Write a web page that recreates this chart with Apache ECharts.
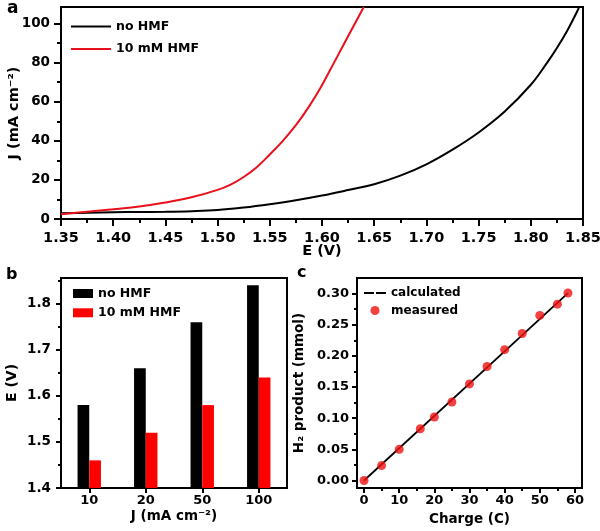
<!DOCTYPE html>
<html><head><meta charset="utf-8">
<script src="https://cdn.jsdelivr.net/npm/echarts@6/dist/echarts.min.js"></script>
<style>html,body{margin:0;padding:0;background:#fff}#c{width:600px;height:531px}</style>
</head><body><div id="c"></div>
<script>
const FONT = 'DejaVu Sans';
// ---- Panel a: LSV curves ----
const aE_noHMF = [1.35,1.375,1.40,1.425,1.45,1.475,1.50,1.525,1.55,1.575,1.60,1.625,1.65,1.675,1.70,1.725,1.75,1.775,1.80,1.815,1.825,1.835,1.846];
const aJ_noHMF = [2.9,3.2,3.5,3.6,3.7,4.0,4.6,5.9,7.6,9.6,12.0,14.8,17.8,22.2,28.0,35.5,44.3,55.0,68.7,79.5,87.5,96.5,108];
const aE_HMF = [1.35,1.375,1.40,1.425,1.45,1.475,1.50,1.5125,1.525,1.5375,1.55,1.5625,1.575,1.5875,1.60,1.61,1.62,1.63,1.64];
const aJ_HMF = [2.4,3.7,5.0,6.4,8.4,11.1,14.9,17.6,21.5,26.5,33.0,40.0,48.0,57.5,68.5,78.5,88.5,98.5,108.5];
const aXTicks = [1.35,1.40,1.45,1.50,1.55,1.60,1.65,1.70,1.75,1.80,1.85];
const aXMinor = [1.375,1.425,1.475,1.525,1.575,1.625,1.675,1.725,1.775,1.825];
const aYTicks = [0,20,40,60,80,100];
const aYMinor = [10,30,50,70,90];
// ---- Panel b: bars ----
const bCategories = ['10','20','50','100'];
const bNoHMF = [1.58,1.66,1.76,1.84];
const bHMF = [1.46,1.52,1.58,1.64];
const bYTicks = [1.4,1.5,1.6,1.7,1.8];
const bYMinor = [1.45,1.55,1.65,1.75,1.85];
// ---- Panel c: H2 product ----
const cCharge = [0,5,10,16,20,25,30,35,40,45,50,55,58];
const cMeasured = [0,0.024,0.050,0.083,0.102,0.126,0.155,0.183,0.210,0.236,0.265,0.283,0.301];
const cCalcX = [0,58];
const cCalcY = [0,0.3006];
const cXTicks = [0,10,20,30,40,50,60];
const cXMinor = [5,15,25,35,45,55];
const cYTicks = [0,0.05,0.10,0.15,0.20,0.25,0.30];
const cYMinor = [0.025,0.075,0.125,0.175,0.225,0.275];

const zip = (a, b) => a.map((v, i) => [v, b[i]]);
const txt = (size) => ({ color: '#000', fontWeight: 'bold', fontFamily: FONT, fontSize: size });

function mainAxis(o) {
  return {
    type: 'value', gridIndex: o.grid, position: o.pos, min: o.min, max: o.max,
    name: o.name, nameLocation: 'middle', nameGap: o.nameGap, nameTextStyle: txt(o.nameSize), nameMoveOverlap: false,
    axisLine: { show: true, onZero: false, lineStyle: { color: '#000', width: 2 } },
    axisTick: { show: true, inside: false, length: o.tickLen, customValues: o.ticks, lineStyle: { color: '#000', width: 2 } },
    axisLabel: Object.assign({ show: true, margin: o.margin, customValues: o.ticks, formatter: o.fmt, hideOverlap: false }, txt(o.labelSize)),
    splitLine: { show: false }, minorTick: { show: false }
  };
}
function minorAxis(o) {
  return {
    type: 'value', gridIndex: o.grid, position: o.pos, min: o.min, max: o.max,
    axisLine: { show: false, onZero: false },
    axisTick: { show: true, inside: false, length: o.tickLen, customValues: o.ticks, lineStyle: { color: '#000', width: 2 } },
    axisLabel: { show: false }, splitLine: { show: false }
  };
}

const xAxes = [
  mainAxis({ grid: 0, pos: 'bottom', min: 1.35, max: 1.85, name: 'E (V)', nameGap: 25, nameSize: 14.5,
    tickLen: 7, ticks: aXTicks, margin: 12, labelSize: 14.5, fmt: v => v.toFixed(2) }),
  minorAxis({ grid: 0, pos: 'bottom', min: 1.35, max: 1.85, tickLen: 4, ticks: aXMinor }),
  {
    type: 'category', gridIndex: 1, position: 'bottom', data: bCategories,
    name: 'J (mA cm\u207B\u00B2)', nameLocation: 'middle', nameGap: 21, nameTextStyle: txt(13.5), nameMoveOverlap: false,
    axisLine: { show: true, onZero: false, lineStyle: { color: '#000', width: 2 } },
    axisTick: { show: true, alignWithLabel: true, length: 5, lineStyle: { color: '#000', width: 2 } },
    axisLabel: Object.assign({ margin: 6 }, txt(13)), splitLine: { show: false }
  },
  mainAxis({ grid: 2, pos: 'bottom', min: -2, max: 62, name: 'Charge (C)', nameGap: 24, nameSize: 13.5,
    tickLen: 5, ticks: cXTicks, margin: 6, labelSize: 13, fmt: v => String(v) }),
  minorAxis({ grid: 2, pos: 'bottom', min: -2, max: 62, tickLen: 3, ticks: cXMinor })
];
const yAxes = [
  mainAxis({ grid: 0, pos: 'left', min: 0, max: 108.5, name: 'J (mA cm\u207B\u00B2)', nameGap: 39, nameSize: 14.5,
    tickLen: 7, ticks: aYTicks, margin: 11, labelSize: 13.5, fmt: v => String(v) }),
  minorAxis({ grid: 0, pos: 'left', min: 0, max: 108.5, tickLen: 4, ticks: aYMinor }),
  mainAxis({ grid: 1, pos: 'left', min: 1.4, max: 1.856, name: 'E (V)', nameGap: 42, nameSize: 14,
    tickLen: 5, ticks: bYTicks, margin: 10, labelSize: 13.5, fmt: v => v.toFixed(1) }),
  minorAxis({ grid: 1, pos: 'left', min: 1.4, max: 1.856, tickLen: 3, ticks: bYMinor }),
  mainAxis({ grid: 2, pos: 'left', min: -0.012, max: 0.325, name: 'H\u2082 product (mmol)', nameGap: 51, nameSize: 13.5,
    tickLen: 5, ticks: cYTicks, margin: 8, labelSize: 13, fmt: v => v.toFixed(2) }),
  minorAxis({ grid: 2, pos: 'left', min: -0.012, max: 0.325, tickLen: 3, ticks: cYMinor })
];

const RED = '#e8101a';
const labels = { a_no: 'no HMF', a_hmf: '10 mM HMF', b_no: 'no HMF', b_hmf: '10 mM HMF', c_calc: 'calculated', c_meas: 'measured' };
const gridBase = { show: true, borderColor: '#000', borderWidth: 2, containLabel: false, outerBoundsMode: 'none' };

const option = {
  animation: false,
  backgroundColor: '#fff',
  grid: [
    Object.assign({ left: 61, top: 7, width: 522, height: 212 }, gridBase),
    Object.assign({ left: 61, top: 278, width: 226, height: 210 }, gridBase),
    Object.assign({ left: 357, top: 278, width: 225, height: 210 }, gridBase)
  ],
  xAxis: xAxes,
  yAxis: yAxes,
  legend: [
    { orient: 'vertical', left: 66, top: 15, itemWidth: 40, itemHeight: 2, itemGap: 9.6, icon: 'rect',
      data: ['a_no', 'a_hmf'], formatter: n => labels[n], textStyle: txt(12.5), selectedMode: false },
    { orient: 'vertical', left: 68, top: 282, itemWidth: 20, itemHeight: 9, itemGap: 6.3, icon: 'rect',
      data: ['b_no', 'b_hmf'], formatter: n => labels[n], textStyle: txt(12.5), selectedMode: false },
    { orient: 'vertical', left: 359, top: 282, itemWidth: 22, itemHeight: 9, itemGap: 5.5,
      data: [{ name: 'c_calc', icon: 'path://M0,3.5H10V5.5H0Z M12,3.5H22V5.5H12Z' }, { name: 'c_meas', icon: 'circle' }],
      formatter: n => labels[n], textStyle: txt(12), selectedMode: false }
  ],
  graphic: [
    { type: 'text', left: 7, top: 0, style: { text: 'a', font: 'bold 17px "DejaVu Sans"', fill: '#000' } },
    { type: 'text', left: 6, top: 267, style: { text: 'b', font: 'bold 16px "DejaVu Sans"', fill: '#000' } },
    { type: 'text', left: 297, top: 265, style: { text: 'c', font: 'bold 16px "DejaVu Sans"', fill: '#000' } }
  ],
  series: [
    { name: 'a_no', type: 'line', xAxisIndex: 0, yAxisIndex: 0, data: zip(aE_noHMF, aJ_noHMF),
      showSymbol: false, symbol: 'none', smooth: 0.4, lineStyle: { color: '#000', width: 2 }, itemStyle: { color: '#000' } },
    { name: 'a_hmf', type: 'line', xAxisIndex: 0, yAxisIndex: 0, data: zip(aE_HMF, aJ_HMF),
      showSymbol: false, symbol: 'none', smooth: 0.4, lineStyle: { color: RED, width: 2 }, itemStyle: { color: RED } },
    { name: 'b_no', type: 'bar', xAxisIndex: 2, yAxisIndex: 2, data: bNoHMF, barWidth: 11.7, barGap: '0%',
      itemStyle: { color: '#000' } },
    { name: 'b_hmf', type: 'bar', xAxisIndex: 2, yAxisIndex: 2, data: bHMF, barWidth: 11.7, barGap: '0%',
      itemStyle: { color: '#ff0000' } },
    { name: 'c_calc', type: 'line', xAxisIndex: 3, yAxisIndex: 4, data: zip(cCalcX, cCalcY),
      showSymbol: false, symbol: 'none', lineStyle: { color: '#000', width: 1.8 }, itemStyle: { color: '#000' } },
    { name: 'c_meas', type: 'scatter', xAxisIndex: 3, yAxisIndex: 4, data: zip(cCharge, cMeasured),
      symbol: 'circle', symbolSize: 9, itemStyle: { color: '#f01010' }, z: 3 }
  ]
};
const chart = echarts.init(document.getElementById('c'), null, { renderer: 'canvas' });
chart.setOption(option);
</script></body></html>
